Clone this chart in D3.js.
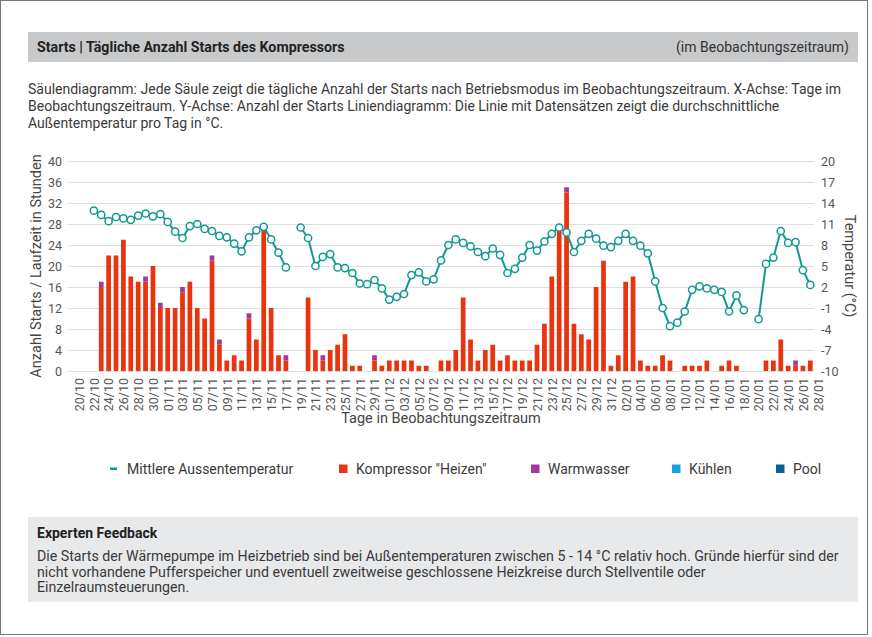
<!DOCTYPE html>
<html>
<head>
<meta charset="utf-8">
<script src="https://cdn.jsdelivr.net/npm/d3@7"></script>
<style>
    body { margin: 0; background: #fff; }
    svg { display: block; font-family: Roboto, "Liberation Sans", sans-serif; }
</style>
</head>
<body>
<div class="myChart"></div>
<script>
//Data
var days = ["20/10","21/10","22/10","23/10","24/10","25/10","26/10","27/10","28/10","29/10","30/10","31/10",
    "01/11","02/11","03/11","04/11","05/11","06/11","07/11","08/11","09/11","10/11","11/11","12/11","13/11","14/11","15/11",
    "16/11","17/11","18/11","19/11","20/11","21/11","22/11","23/11","24/11","25/11","26/11","27/11","28/11","29/11","30/11",
    "01/12","02/12","03/12","04/12","05/12","06/12","07/12","08/12","09/12","10/12","11/12","12/12","13/12","14/12","15/12",
    "16/12","17/12","18/12","19/12","20/12","21/12","22/12","23/12","24/12","25/12","26/12","27/12","28/12","29/12","30/12","31/12",
    "01/01","02/01","03/01","04/01","05/01","06/01","07/01","08/01","09/01","10/01","11/01","12/01","13/01","14/01","15/01",
    "16/01","17/01","18/01","19/01","20/01","21/01","22/01","23/01","24/01","25/01","26/01","27/01","28/01"];

var heizen = [0,0,0,16,22,22,25,18,17,17,20,12,
    12,12,15,17,12,10,21,5,2,3,2,10,6,27,12,3,2,0,0,14,4,2,4,5,7,1,1,0,2,1,
    2,2,2,2,1,1,0,2,2,4,14,6,2,4,5,2,3,2,2,2,5,9,18,27,34,9,7,6,16,21,1,
    3,17,18,2,1,1,3,2,0,1,1,1,2,0,1,2,1,0,0,0,2,2,6,1,1,1,2,0];

var warmwasser = [0,0,0,1,0,0,0,0,0,1,0,1,
    0,0,1,0,0,0,1,1,0,0,0,1,0,0,0,0,1,0,0,0,0,1,0,0,0,0,0,0,1,0,
    0,0,0,0,0,0,0,0,0,0,0,0,0,0,0,0,0,0,0,0,0,0,0,0,1,0,0,0,0,0,0,
    0,0,0,0,0,0,0,0,0,0,0,0,0,0,0,0,0,0,0,0,0,0,0,0,1,0,0,0];

var kuehlen = days.map(function() { return 0; });
var pool = days.map(function() { return 0; });

var temperatur = [null,null,12.9,12.3,11.4,12.0,11.8,11.6,12.2,12.5,12.1,12.4,
    11.3,9.9,9.0,10.7,11.0,10.3,10.0,9.3,9.1,8.2,7.1,9.1,10.1,10.6,8.8,6.9,4.8,null,10.5,9.0,5.0,6.3,6.7,4.8,4.7,4.0,2.5,2.4,3.0,1.8,
    0.2,0.6,1.0,3.7,4.1,2.8,3.1,5.8,8.0,8.8,8.3,7.8,7.0,6.4,7.5,6.6,4.0,4.6,6.2,8.0,7.2,8.5,9.6,10.5,9.8,7.0,8.6,9.6,8.9,7.9,7.7,
    8.6,9.6,8.6,7.9,6.8,2.8,-1.0,-3.6,-3.1,-1.5,1.6,2.1,1.8,1.6,1.3,-1.5,0.8,-1.3,null,-2.6,5.3,6.2,10.0,8.3,8.4,4.4,2.3,null];

var startTicks = [0,4,8,12,16,20,24,28,32,36,40];
var tempTicks = [-10,-7,-4,-1,2,5,8,11,14,17,20];

var legendItems = [
    {name: "Mittlere Aussentemperatur", color: "#13998f", line: true},
    {name: "Kompressor \"Heizen\"", color: "#e8340f"},
    {name: "Warmwasser", color: "#a2399d"},
    {name: "Kühlen", color: "#1ca0dd"},
    {name: "Pool", color: "#0d5f9a"}
];

var descLines = [
    "Säulendiagramm: Jede Säule zeigt die tägliche Anzahl der Starts nach Betriebsmodus im Beobachtungszeitraum. X-Achse: Tage im",
    "Beobachtungszeitraum. Y-Achse: Anzahl der Starts Liniendiagramm: Die Linie mit Datensätzen zeigt die durchschnittliche",
    "Außentemperatur pro Tag in °C."
];
var feedbackLines = [
    "Die Starts der Wärmepumpe im Heizbetrieb sind bei Außentemperaturen zwischen 5 - 14 °C relativ hoch. Gründe hierfür sind der",
    "nicht vorhandene Pufferspeicher und eventuell zweitweise geschlossene Heizkreise durch Stellventile oder",
    "Einzelraumsteuerungen."
];

function run () {
    //Canvas Size
    var width = 872;
    var height = 637;
    var textColor = "#3a3a3a";

    //Plot area
    var plot = {left: 68, right: 814, top: 161, bottom: 371};

    var svg = d3.select(".myChart").append("svg")
        .attr("width", width)
        .attr("height", height);

    //Frame
    svg.append("rect")
        .attr("x", 0.5).attr("y", 0.5)
        .attr("width", 867).attr("height", 634)
        .attr("fill", "#fff")
        .attr("stroke", "#777");

    //Header bar
    svg.append("rect")
        .attr("x", 28).attr("y", 32)
        .attr("width", 830).attr("height", 30)
        .attr("fill", "#c8c9cb");
    svg.append("text")
        .attr("x", 37).attr("y", 52)
        .attr("font-size", 14.2).attr("font-weight", "bold")
        .attr("fill", "#222")
        .text("Starts | Tägliche Anzahl Starts des Kompressors");
    svg.append("text")
        .attr("x", 849).attr("y", 52)
        .attr("text-anchor", "end")
        .attr("font-size", 14)
        .attr("fill", "#333")
        .text("(im Beobachtungszeitraum)");

    //Description
    svg.append("g").selectAll("text")
        .data(descLines)
        .enter().append("text")
        .attr("x", 28)
        .attr("y", function(d, i) { return 94 + i * 17; })
        .attr("font-size", 14)
        .attr("fill", textColor)
        .text(function(d) { return d; });

    //Scales
    var xScale = d3.scaleLinear()
        .domain([-1.5, 99.5])
        .range([plot.left, plot.right]);
    var step = xScale(1) - xScale(0);
    var barWidth = step * 0.64;

    var yScale = d3.scaleLinear()
        .domain([0, 40])
        .range([plot.bottom, plot.top]);
    var tScale = d3.scaleLinear()
        .domain([-10, 20])
        .range([plot.bottom, plot.top]);

    //Gridlines
    svg.append("g").selectAll("line")
        .data(startTicks)
        .enter().append("line")
        .attr("x1", plot.left).attr("x2", plot.right)
        .attr("y1", function(d) { return yScale(d) + 0.5; })
        .attr("y2", function(d) { return yScale(d) + 0.5; })
        .attr("stroke", "#dedfe1");

    //Axes
    var leftAxis = svg.append("g")
        .attr("transform", "translate(" + plot.left + ",0)")
        .call(d3.axisLeft(yScale).tickValues(startTicks).tickSize(0).tickPadding(6));
    var rightAxis = svg.append("g")
        .attr("transform", "translate(" + plot.right + ",0)")
        .call(d3.axisRight(tScale).tickValues(tempTicks).tickSize(0).tickPadding(7)
            .tickFormat(function(d) { return d; }));
    var bottomAxis = svg.append("g")
        .attr("transform", "translate(0," + plot.bottom + ")")
        .call(d3.axisBottom(xScale).tickValues(d3.range(0, days.length, 2)).tickSize(0)
            .tickFormat(function(i) { return days[i]; }));

    [leftAxis, rightAxis, bottomAxis].forEach(function(a) {
        a.select(".domain").remove();
        a.selectAll("text")
            .attr("font-family", "Roboto, 'Liberation Sans', sans-serif")
            .attr("font-size", 12.5)
            .attr("fill", "#555");
    });
    bottomAxis.selectAll("text")
        .attr("transform", "rotate(-90)")
        .attr("text-anchor", "end")
        .attr("x", -7)
        .attr("y", 0)
        .attr("dy", "0.35em");

    //Stacked bars
    var series = [
        {values: heizen, color: legendItems[1].color},
        {values: warmwasser, color: legendItems[2].color},
        {values: kuehlen, color: legendItems[3].color},
        {values: pool, color: legendItems[4].color}
    ];
    var bars = svg.append("g");
    days.forEach(function(day, i) {
        var base = 0;
        series.forEach(function(s) {
            var v = s.values[i] || 0;
            if (v > 0) {
                bars.append("rect")
                    .attr("x", xScale(i) - barWidth / 2)
                    .attr("y", yScale(base + v))
                    .attr("width", barWidth)
                    .attr("height", yScale(base) - yScale(base + v))
                    .attr("fill", s.color);
            }
            base += v;
        });
    });

    //Temperature line
    var line = d3.line()
        .defined(function(d) { return d != null; })
        .x(function(d, i) { return xScale(i); })
        .y(function(d) { return tScale(d); });
    svg.append("path")
        .datum(temperatur)
        .attr("d", line)
        .attr("fill", "none")
        .attr("stroke", legendItems[0].color)
        .attr("stroke-width", 2);
    svg.append("g").selectAll("circle")
        .data(temperatur.map(function(d, i) { return {i: i, v: d}; })
            .filter(function(d) { return d.v != null; }))
        .enter().append("circle")
        .attr("cx", function(d) { return xScale(d.i); })
        .attr("cy", function(d) { return tScale(d.v); })
        .attr("r", 3.6)
        .attr("fill", "#fff")
        .attr("stroke", legendItems[0].color)
        .attr("stroke-width", 1.5);

    //Axis titles
    svg.append("text")
        .attr("transform", "translate(41," + ((plot.top + plot.bottom) / 2) + ") rotate(-90)")
        .attr("text-anchor", "middle")
        .attr("font-size", 14.5)
        .attr("fill", "#444")
        .text("Anzahl Starts / Laufzeit in Stunden");
    svg.append("text")
        .attr("transform", "translate(845,266) rotate(90)")
        .attr("text-anchor", "middle")
        .attr("font-size", 14.5)
        .attr("fill", "#444")
        .text("Temperatur  (°C)");
    svg.append("text")
        .attr("x", (plot.left + plot.right) / 2)
        .attr("y", 423)
        .attr("text-anchor", "middle")
        .attr("font-size", 14.5)
        .attr("fill", "#444")
        .text("Tage in Beobachtungszeitraum");

    //Legend
    var legendX = [110, 339, 531, 672, 776];
    var legend = svg.append("g").selectAll("g")
        .data(legendItems)
        .enter().append("g")
        .attr("transform", function(d, i) { return "translate(" + legendX[i] + ",469)"; });
    legend.append("rect")
        .attr("y", function(d) { return d.line ? -1.5 : -4.5; })
        .attr("width", function(d) { return d.line ? 7 : 8.5; })
        .attr("height", function(d) { return d.line ? 2.5 : 8.5; })
        .attr("fill", function(d) { return d.color; });
    legend.append("text")
        .attr("x", 17)
        .attr("y", 5)
        .attr("font-size", 14)
        .attr("fill", textColor)
        .text(function(d) { return d.name; });

    //Expert feedback box
    svg.append("rect")
        .attr("x", 28).attr("y", 517)
        .attr("width", 830).attr("height", 85)
        .attr("fill", "#e8e9eb");
    svg.append("text")
        .attr("x", 37).attr("y", 538)
        .attr("font-size", 14).attr("font-weight", "bold")
        .attr("fill", "#222")
        .text("Experten Feedback");
    svg.append("g").selectAll("text")
        .data(feedbackLines)
        .enter().append("text")
        .attr("x", 37)
        .attr("y", function(d, i) { return 561 + i * 15.5; })
        .attr("font-size", 14.2)
        .attr("fill", textColor)
        .text(function(d) { return d; });
}

run();
</script>
</body>
</html>
